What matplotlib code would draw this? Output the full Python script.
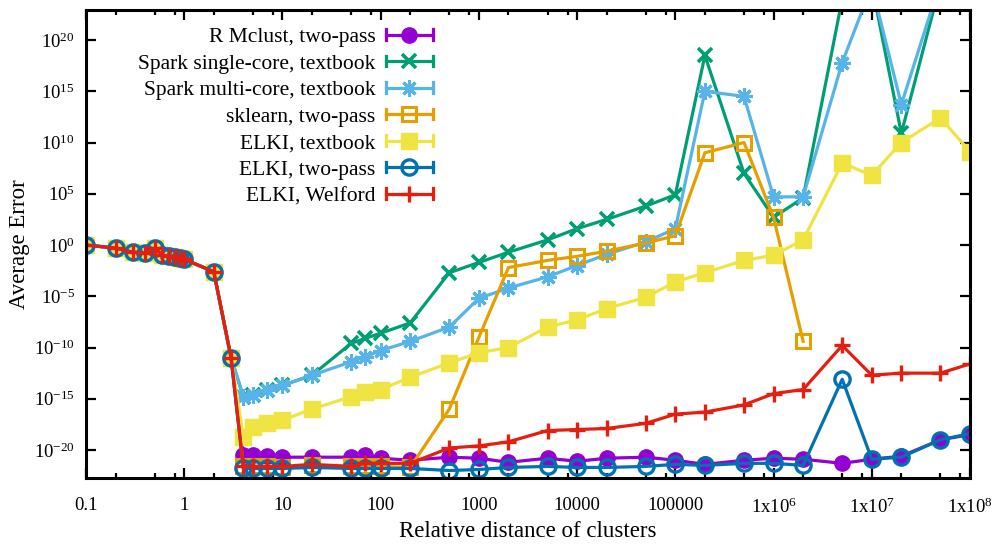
import matplotlib
matplotlib.use("Agg")
import matplotlib.pyplot as plt
import numpy as np
from matplotlib.legend_handler import HandlerLine2D
from matplotlib.lines import Line2D
from matplotlib.ticker import FixedLocator, LogLocator, NullFormatter, NullLocator

plt.rcParams["font.family"] = ["Liberation Serif", "DejaVu Serif"]
plt.rcParams["mathtext.fontset"] = "custom"
plt.rcParams["mathtext.rm"] = "Liberation Serif"
plt.rcParams["mathtext.it"] = "Liberation Serif:italic"

# relative distance of clusters
distance = [0.1, 0.2, 0.3, 0.4, 0.5, 0.6, 0.7, 0.8, 0.9, 1, 2, 3,
            4, 5, 7, 10, 20, 50, 70, 100, 200, 500, 1000, 2000, 5000,
            1e4, 2e4, 5e4, 1e5, 2e5, 5e5, 1e6, 2e6, 5e6, 1e7, 2e7, 5e7, 1e8]

# log10 of the average error
start = [0, -0.3, -0.7, -0.8, -0.3, -1.0, -1.1, -1.2, -1.3, -1.4, -2.6, -11.0]
mclust = start + [-20.5, -20.5, -20.6, -20.7, -20.7, -20.7, -20.5, -20.8, -21.0, -20.7,
                  -20.8, -21.2, -20.8, -21.1, -20.8, -20.7, -21.0, -21.4, -21.0, -20.8,
                  -20.9, -21.3, -20.9, -20.6, -19.0, -18.5]
spark_single = start + [-14.8, -14.6, -14.1, -13.7, -12.7, -9.6, -9.1, -8.6, -7.6, -2.7,
                        -1.7, -0.7, 0.5, 1.6, 2.5, 3.8, 4.9, 18.5, 7.0, 2.7,
                        4.6, 24.0, 25.4, 10.9, 25.5, 26.0]
spark_multi = start + [-14.8, -14.6, -14.1, -13.7, -12.7, -11.4, -10.9, -10.3, -9.4, -8.0,
                       -5.2, -4.2, -3.1, -2.0, -0.9, 0.3, 1.6, 15.0, 14.5, 4.7,
                       4.7, 17.8, 25.3, 13.7, 25.7, 26.0]
sklearn = start + [-21.6, -21.6, -21.6, -21.7, -21.5, -21.6, -21.6, -21.6, -21.7, -16.0,
                   -9.0, -2.2, -1.5, -1.1, -0.6, 0.2, 0.9, 9.0, 10.0, 2.7,
                   -9.4, np.nan, np.nan, np.nan, np.nan, np.nan]
elki_textbook = start + [-18.7, -17.8, -17.4, -17.1, -16.0, -14.8, -14.3, -14.1, -12.9, -11.5,
                         -10.5, -10.0, -8.0, -7.3, -6.2, -5.1, -3.6, -2.7, -1.5, -1.0,
                         0.5, 8.0, 6.8, 10.0, 12.4, 9.1]
elki_twopass = start + [-21.8, -21.8, -21.8, -21.8, -21.7, -21.8, -21.8, -21.8, -21.8, -22.0,
                        -21.9, -21.7, -21.6, -21.7, -21.7, -21.6, -21.4, -21.5, -21.3, -21.3,
                        -21.5, -13.1, -20.9, -20.7, -19.0, -18.4]
elki_welford = start + [-21.6, -21.6, -21.6, -21.6, -21.4, -21.6, -21.3, -21.3, -21.3, -19.8,
                        -19.6, -19.2, -18.1, -18.0, -17.9, -17.4, -16.5, -16.3, -15.6, -14.5,
                        -14.1, -9.8, -12.7, -12.5, -12.5, -11.6]

series = [
    ("R Mclust, two-pass", mclust, "#9400d3", dict(marker="o", ms=11)),
    ("Spark single-core, textbook", spark_single, "#009e73", dict(marker="x", ms=10, mew=2.6)),
    ("Spark multi-core, textbook", spark_multi, "#56b4e9", dict(marker=(8, 2, 0), ms=12, mew=2.2)),
    ("sklearn, two-pass", sklearn, "#e69f00", dict(marker="s", ms=10, mfc="none", mew=2.2)),
    ("ELKI, textbook", elki_textbook, "#f0e442", dict(marker="s", ms=11.5)),
    ("ELKI, two-pass", elki_twopass, "#0072b2", dict(marker="o", ms=11, mfc="none", mew=2.4)),
    ("ELKI, Welford", elki_welford, "#e51e10", dict(marker="+", ms=12, mew=2.4)),
]


class HandlerErrLine(HandlerLine2D):
    def create_artists(self, legend, orig_handle, xdescent, ydescent, width, height, fontsize, trans):
        artists = super().create_artists(legend, orig_handle, xdescent, ydescent, width, height, fontsize, trans)
        y = height / 2 - ydescent
        for xx in (-xdescent, -xdescent + width):
            cap = Line2D([xx, xx], [y - 0.35 * height, y + 0.35 * height],
                         color=orig_handle.get_color(), lw=orig_handle.get_linewidth(), transform=trans)
            artists.append(cap)
        return artists


fig = plt.figure(figsize=(10.01, 5.44), dpi=100)
ax = fig.add_axes([86 / 1001, 1 - 478 / 544, (970 - 86) / 1001, (478 - 10) / 544])

for label, vals, color, style in series:
    ax.plot(distance, 10.0 ** np.array(vals, dtype=float), color=color, lw=2.3, label=label, **style)

ax.set_xscale("log")
ax.set_yscale("log")
ax.set_xlim(0.1, 1e8)
ax.set_ylim(10 ** -22.73, 10 ** 22.93)

xt = [0.1, 1, 10, 100, 1000, 1e4, 1e5, 1e6, 1e7, 1e8]
xl = ["0.1", "1", "10", "100", "1000", "10000", "100000", "1x10$^{6}$", "1x10$^{7}$", "1x10$^{8}$"]
ax.xaxis.set_major_locator(FixedLocator(xt))
ax.set_xticklabels(xl)
ax.xaxis.set_minor_locator(LogLocator(base=10, subs=[2, 5, 8], numticks=30))
ax.xaxis.set_minor_formatter(NullFormatter())

yt = [10.0 ** e for e in range(-20, 21, 5)]
ax.yaxis.set_major_locator(FixedLocator(yt))
ax.set_yticklabels(["10$^{%d}$" % e for e in range(-20, 21, 5)])
ax.yaxis.set_minor_locator(NullLocator())

ax.tick_params(which="both", direction="in", top=True, right=True, labelsize=13.5, width=1.6)
ax.tick_params(axis="x", which="major", length=7, pad=14)
ax.tick_params(axis="y", which="major", length=7, pad=8)
ax.tick_params(which="minor", length=3.5)
for sp in ax.spines.values():
    sp.set_linewidth(2.2)

ax.set_xlabel("Relative distance of clusters", fontsize=16.5, labelpad=3)
ax.set_ylabel("Average Error", fontsize=16.5, labelpad=3)

leg = ax.legend(loc="upper right", bbox_to_anchor=(433 / 1001, 1 - 27 / 544), bbox_transform=fig.transFigure,
                frameon=False, markerfirst=False, fontsize=15.5, handlelength=2.2, handletextpad=0.47,
                labelspacing=0.30, borderpad=0, borderaxespad=0,
                handler_map={Line2D: HandlerErrLine()})

fig.savefig("out.png", dpi=100)
